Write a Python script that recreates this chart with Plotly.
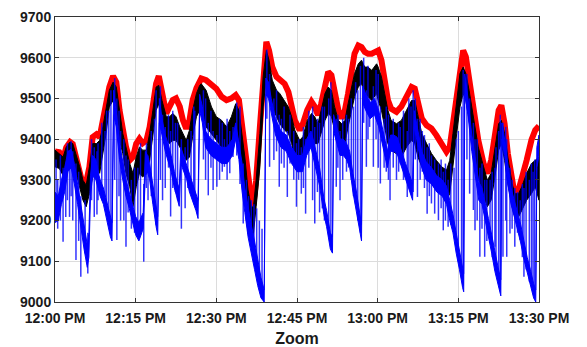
import pandas as pd
import plotly.graph_objects as go

# Sample times, in minutes after 12:00
minutes = [
    0, 0.8, 1.5, 2.1, 2.8, 3.3, 3.9, 4.6, 5.2, 5.8,
    6.4, 7.0, 7.7, 8.3, 8.9, 9.5, 10.1, 10.8, 11.4, 12.0,
    12.6, 13.2, 13.9, 14.5, 15.1, 15.7, 16.3, 17.0, 17.6, 18.2,
    18.8, 19.3, 19.9, 20.7, 21.3, 21.9, 22.5, 23.2, 23.8, 24.4,
    25.0, 25.6, 26.3, 26.9, 27.2, 28.1, 29.1, 30.0, 31.0, 31.9,
    32.8, 33.6, 34.2, 34.6, 35.3, 35.9, 36.5, 36.9, 37.4, 38.1,
    38.7, 39.3, 39.8, 40.4, 41.2, 41.8, 42.7, 43.4, 44.0, 44.6,
    45.5, 46.1, 46.9, 47.7, 48.3, 48.9, 49.5, 50.2, 50.8, 51.4,
    52.0, 52.7, 53.3, 53.9, 54.5, 55.1, 55.7, 56.4, 57.0, 57.6,
    58.2, 58.9, 59.8, 60.1, 60.7, 61.3, 61.9, 62.5, 63.5, 64.4,
    65.4, 66.3, 66.9, 67.5, 68.2, 69.1, 70.0, 70.9, 71.9, 72.8,
    73.4, 74.0, 74.7, 75.3, 75.9, 76.4, 77.0, 77.8, 78.7, 79.7,
    80.4, 81.1, 81.7, 82.5, 83.0, 83.6, 84.2, 85.0, 85.5, 86.2,
    86.8, 87.7, 88.6, 89.3, 90.0,
]

# Upper (red) series
red = [
    9370, 9368, 9352, 9380, 9393, 9388, 9356, 9316, 9287, 9295,
    9332, 9405, 9412, 9405, 9446, 9483, 9528, 9555, 9540, 9471,
    9414, 9381, 9348, 9356, 9389, 9401, 9390, 9397, 9430, 9487,
    9536, 9555, 9512, 9463, 9480, 9496, 9500, 9480, 9446, 9426,
    9446, 9496, 9525, 9545, 9549, 9545, 9536, 9524, 9504, 9496,
    9500, 9508, 9496, 9455, 9373, 9299, 9250, 9238, 9299, 9430,
    9561, 9639, 9618, 9577, 9553, 9545, 9536, 9516, 9479, 9446,
    9422, 9438, 9471, 9492, 9480, 9459, 9487, 9536, 9565, 9557,
    9512, 9471, 9451, 9471, 9512, 9561, 9610, 9630, 9626, 9614,
    9610, 9610, 9618, 9618, 9594, 9545, 9496, 9475, 9467, 9480,
    9508, 9528, 9524, 9487, 9451, 9434, 9426, 9410, 9389, 9369,
    9381, 9438, 9512, 9577, 9618, 9602, 9545, 9471, 9398, 9340,
    9316, 9348, 9405, 9471, 9483, 9438, 9365, 9300, 9262, 9275,
    9300, 9348, 9398, 9422, 9432,
]

# Middle (black) series: top and bottom of its swing
black_hi = [
    9373, 9365, 9356, 9381, 9393, 9389, 9365, 9332, 9299, 9287,
    9332, 9389, 9389, 9397, 9430, 9471, 9520, 9540, 9528, 9471,
    9414, 9381, 9340, 9316, 9356, 9381, 9373, 9373, 9414, 9471,
    9528, 9532, 9495, 9455, 9455, 9463, 9455, 9430, 9414, 9397,
    9422, 9471, 9512, 9532, 9536, 9520, 9479, 9455, 9446, 9430,
    9455, 9487, 9471, 9430, 9356, 9275, 9234, 9234, 9299, 9414,
    9553, 9618, 9594, 9545, 9520, 9512, 9495, 9479, 9455, 9422,
    9397, 9406, 9446, 9463, 9455, 9438, 9471, 9512, 9528, 9520,
    9479, 9446, 9438, 9446, 9487, 9528, 9561, 9585, 9594, 9577,
    9577, 9569, 9585, 9577, 9553, 9512, 9471, 9446, 9438, 9446,
    9471, 9495, 9495, 9455, 9414, 9389, 9365, 9348, 9332, 9324,
    9348, 9414, 9495, 9561, 9577, 9561, 9520, 9455, 9381, 9332,
    9299, 9316, 9373, 9438, 9446, 9414, 9356, 9291, 9266, 9266,
    9283, 9316, 9340, 9348, 9356,
]
black_lo = [
    9332, 9328, 9311, 9332, 9356, 9348, 9316, 9283, 9250, 9234,
    9266, 9307, 9332, 9316, 9365, 9414, 9479, 9495, 9479, 9397,
    9365, 9316, 9283, 9234, 9283, 9316, 9307, 9316, 9348, 9414,
    9471, 9487, 9430, 9397, 9389, 9397, 9397, 9381, 9365, 9348,
    9356, 9406, 9455, 9471, 9479, 9430, 9414, 9397, 9381, 9365,
    9381, 9414, 9397, 9348, 9250, 9168, 9152, 9168, 9234, 9332,
    9479, 9553, 9520, 9479, 9455, 9438, 9422, 9414, 9389, 9356,
    9332, 9348, 9381, 9397, 9389, 9389, 9414, 9446, 9463, 9455,
    9422, 9397, 9381, 9389, 9430, 9471, 9504, 9528, 9536, 9512,
    9504, 9495, 9512, 9495, 9471, 9430, 9389, 9373, 9365, 9356,
    9381, 9397, 9389, 9356, 9332, 9316, 9291, 9275, 9266, 9250,
    9266, 9332, 9414, 9479, 9512, 9495, 9446, 9381, 9307, 9258,
    9234, 9250, 9299, 9373, 9389, 9348, 9291, 9234, 9209, 9209,
    9225, 9250, 9266, 9283, 9250,
]

# Lower (blue) series: dense body of the trace
blue_minutes = [
    0.0, 0.6, 1.2, 1.8, 2.4, 3.0, 3.6, 4.2, 4.8, 5.4,
    6.0, 6.3, 6.6, 7.0, 7.6, 8.2, 8.4, 9.0, 9.7, 10.3,
    10.6, 10.9, 11.4, 12.0, 12.6, 13.2, 13.8, 14.4, 15.0, 15.6,
    16.4, 16.8, 17.2, 17.6, 18.2, 18.8, 19.1, 19.4, 19.9, 20.5,
    21.0, 21.6, 22.2, 22.8, 23.1, 23.4, 24.0, 24.5, 25.0, 25.6,
    26.2, 26.6, 26.9, 27.4, 28.0, 29.0, 30.0, 31.0, 32.0, 33.0,
    33.6, 34.2, 34.8, 35.3, 35.9, 36.5, 37.1, 37.7, 38.3, 38.9,
    39.2, 39.7, 40.2, 41.0, 42.0, 43.0, 44.0, 45.0, 46.0, 46.8,
    47.6, 48.2, 49.2, 50.0, 50.5, 51.2, 51.6, 51.8, 52.4, 53.0,
    53.6, 54.2, 54.8, 55.4, 56.0, 56.6, 57.0, 57.2, 57.8, 58.6,
    59.4, 60.2, 61.0, 61.8, 62.4, 63.0, 63.6, 64.4, 65.2, 66.0,
    66.5, 66.8, 67.4, 68.2, 69.0, 70.0, 71.0, 72.0, 72.8, 73.4,
    74.0, 74.6, 75.2, 75.8, 76.0, 76.2, 76.8, 77.5, 78.2, 78.8,
    79.4, 80.0, 80.6, 81.2, 81.8, 82.4, 82.9, 83.1, 83.6, 84.2,
    84.8, 85.4, 86.0, 86.6, 87.2, 87.8, 88.4, 89.0, 89.4, 89.6,
    90.0,
]
blue_hi = [
    9270, 9260, 9300, 9330, 9370, 9375, 9340, 9290, 9240, 9185,
    9140, 9170, 9310, 9360, 9350, 9310, 9300, 9280, 9240, 9205,
    9195, 9520, 9470, 9390, 9340, 9300, 9270, 9240, 9210, 9195,
    9220, 9370, 9360, 9340, 9290, 9230, 9210, 9500, 9450, 9410,
    9390, 9360, 9320, 9290, 9280, 9380, 9355, 9340, 9315, 9290,
    9265, 9250, 9510, 9480, 9420, 9400, 9390, 9380, 9380, 9400,
    9440, 9390, 9340, 9280, 9230, 9190, 9150, 9100, 9060, 9030,
    9550, 9540, 9500, 9450, 9420, 9410, 9380, 9360, 9360, 9400,
    9420, 9390, 9330, 9255, 9225, 9170, 9160, 9460, 9430, 9400,
    9400, 9390, 9370, 9315, 9275, 9225, 9190, 9530, 9510, 9490,
    9500, 9470, 9420, 9370, 9410, 9410, 9405, 9370, 9340, 9310,
    9290, 9470, 9430, 9370, 9345, 9330, 9310, 9300, 9285, 9250,
    9215, 9170, 9130, 9085, 9070, 9560, 9500, 9410, 9350, 9295,
    9280, 9245, 9205, 9165, 9120, 9085, 9055, 9440, 9400, 9335,
    9280, 9250, 9220, 9190, 9150, 9110, 9080, 9045, 9030, 9380,
    9410,
]
blue_lo = [
    9195, 9200, 9240, 9270, 9320, 9330, 9290, 9240, 9190, 9130,
    9085, 9110, 9260, 9310, 9300, 9270, 9260, 9240, 9200, 9160,
    9150, 9460, 9430, 9350, 9300, 9260, 9230, 9200, 9165, 9150,
    9180, 9310, 9320, 9300, 9240, 9185, 9165, 9440, 9410, 9370,
    9350, 9320, 9280, 9250, 9235, 9340, 9320, 9300, 9270, 9250,
    9225, 9205, 9470, 9440, 9380, 9360, 9350, 9340, 9340, 9360,
    9400, 9350, 9270, 9220, 9160, 9120, 9080, 9040, 9010, 9000,
    9510, 9500, 9460, 9410, 9380, 9370, 9340, 9320, 9320, 9360,
    9380, 9350, 9285, 9215, 9185, 9130, 9120, 9420, 9390, 9360,
    9360, 9350, 9330, 9270, 9230, 9180, 9150, 9490, 9470, 9450,
    9460, 9430, 9380, 9330, 9370, 9370, 9365, 9330, 9300, 9270,
    9250, 9430, 9390, 9330, 9300, 9290, 9270, 9260, 9240, 9200,
    9170, 9120, 9080, 9035, 9025, 9510, 9460, 9370, 9310, 9250,
    9240, 9200, 9160, 9120, 9075, 9040, 9015, 9400, 9360, 9290,
    9240, 9210, 9180, 9145, 9105, 9070, 9040, 9010, 9000, 9330,
    9360,
]

# Isolated excursions of the blue series (time, upper end, lower end)
spike_minutes = [
    0.5, 1.5, 2.0, 2.7, 3.3, 3.9, 4.8, 6.1, 7.3, 7.8,
    9.3, 10.0, 11.5, 12.2, 13.2, 14.2, 15.4, 16.5, 17.3, 18.5,
    20.0, 20.5, 21.5, 22.4, 23.5, 24.2, 25.3, 26.0, 28.5, 29.4,
    30.1, 31.5, 32.5, 33.1, 35.0, 36.0, 37.0, 38.0, 39.9, 40.7,
    41.7, 42.1, 43.2, 44.9, 45.8, 46.6, 48.3, 49.2, 50.1, 50.9,
    52.3, 53.0, 54.6, 55.5, 56.3, 57.9, 58.5, 59.2, 60.5, 61.2,
    62.3, 63.5, 64.2, 65.5, 66.2, 67.4, 68.3, 69.2, 70.0, 70.6,
    71.3, 72.2, 73.1, 74.2, 75.0, 75.6, 77.1, 77.8, 78.1, 79.0,
    79.9, 80.9, 81.8, 82.5, 83.3, 84.0, 84.6, 85.5, 86.5, 87.2,
    88.2, 88.9,
    0.2, 1.0, 2.3, 3.0, 4.4, 5.6, 6.8, 8.0, 8.7, 9.6,
    10.4, 11.1, 11.9, 12.8, 13.6, 14.8, 15.9, 17.0, 17.9, 18.8,
    19.6, 21.1, 21.9, 22.8, 24.7, 25.8, 27.6, 28.0, 29.0, 30.6,
    31.1, 32.0, 33.8, 34.4, 35.6, 36.5, 37.5, 38.5, 39.4, 41.2,
    42.6, 43.7, 44.4, 45.3, 46.2, 47.2, 47.9, 48.8, 49.7, 51.3,
    52.6, 53.5, 54.2, 55.1, 55.9, 56.8, 57.4, 58.2, 59.7, 60.1,
    61.6, 62.0, 62.9, 63.9, 64.8, 65.8, 66.6, 67.0, 67.9, 68.7,
    69.6, 71.8, 72.6, 73.6, 74.6, 75.9, 76.6, 78.5, 79.4, 80.3,
    81.3, 82.0, 82.8, 83.8, 85.0, 86.0, 86.9, 87.6, 88.6, 89.2,
]
spike_top = [
    9300, 9330, 9340, 9370, 9370, 9340, 9260, 9170, 9380, 9370,
    9420, 9470, 9500, 9420, 9360, 9300, 9330, 9290, 9360, 9450,
    9460, 9430, 9420, 9440, 9400, 9380, 9420, 9470, 9440, 9420,
    9410, 9400, 9420, 9430, 9340, 9260, 9240, 9200, 9560, 9500,
    9460, 9450, 9420, 9390, 9380, 9400, 9430, 9440, 9480, 9500,
    9450, 9420, 9450, 9480, 9520, 9520, 9500, 9530, 9480, 9450,
    9400, 9400, 9430, 9420, 9480, 9450, 9420, 9380, 9360, 9350,
    9340, 9320, 9300, 9330, 9420, 9480, 9500, 9440, 9400, 9330,
    9300, 9300, 9330, 9420, 9440, 9400, 9330, 9280, 9250, 9280,
    9300, 9320,
    9350, 9360, 9390, 9395, 9320, 9250, 9400, 9390, 9440, 9470,
    9520, 9550, 9470, 9400, 9350, 9330, 9390, 9390, 9420, 9520,
    9530, 9460, 9470, 9440, 9400, 9480, 9520, 9500, 9470, 9450,
    9440, 9450, 9490, 9480, 9300, 9250, 9230, 9180, 9620, 9520,
    9480, 9460, 9420, 9400, 9430, 9470, 9480, 9450, 9480, 9540,
    9460, 9450, 9460, 9500, 9540, 9580, 9600, 9580, 9570, 9560,
    9480, 9460, 9450, 9440, 9470, 9500, 9520, 9500, 9450, 9410,
    9390, 9350, 9340, 9340, 9400, 9570, 9560, 9400, 9340, 9300,
    9320, 9380, 9460, 9430, 9300, 9270, 9290, 9320, 9340, 9350,
]
spike_bottom = [
    9180, 9148, 9209, 9209, 9200, 9103, 9062, 9070, 9209, 9215,
    9260, 9200, 9152, 9200, 9136, 9180, 9160, 9099, 9250, 9240,
    9250, 9280, 9210, 9270, 9180, 9230, 9280, 9240, 9262, 9275,
    9283, 9332, 9316, 9356, 9193, 9170, 9110, 9060, 9332, 9349,
    9283, 9340, 9258, 9234, 9266, 9217, 9193, 9220, 9200, 9160,
    9283, 9250, 9330, 9260, 9200, 9332, 9430, 9332, 9291, 9330,
    9250, 9300, 9340, 9258, 9280, 9258, 9320, 9217, 9242, 9217,
    9201, 9176, 9185, 9180, 9100, 9060, 9266, 9226, 9176, 9111,
    9111, 9176, 9136, 9060, 9111, 9111, 9168, 9136, 9152, 9062,
    9050, 9020,
    9220, 9200, 9250, 9260, 9150, 9120, 9250, 9250, 9250, 9220,
    9170, 9300, 9260, 9200, 9220, 9170, 9170, 9280, 9260, 9190,
    9300, 9330, 9280, 9250, 9280, 9250, 9350, 9300, 9330, 9300,
    9320, 9300, 9360, 9290, 9200, 9140, 9080, 9020, 9450, 9370,
    9330, 9340, 9300, 9300, 9280, 9330, 9250, 9270, 9230, 9140,
    9330, 9300, 9320, 9300, 9240, 9170, 9440, 9400, 9400, 9330,
    9320, 9300, 9330, 9320, 9300, 9280, 9270, 9350, 9300, 9280,
    9260, 9230, 9200, 9190, 9140, 9040, 9350, 9200, 9180, 9150,
    9110, 9080, 9030, 9200, 9180, 9170, 9110, 9080, 9040, 9010,
]

tick_minutes = [0, 15, 30, 45, 60, 75, 90]
tick_labels = ["12:00 PM", "12:15 PM", "12:30 PM", "12:45 PM",
               "13:00 PM", "13:15 PM", "13:30 PM"]

start = pd.Timestamp("2021-03-01 12:00:00")


def clock(mins):
    return [(start + pd.Timedelta(minutes=m)).strftime("%Y-%m-%d %H:%M:%S.%f")
            for m in mins]


def band(mins, hi, lo):
    t = clock(mins)
    return t + t[::-1], list(hi) + list(lo)[::-1]


fig = go.Figure()

fig.add_trace(go.Scatter(
    x=clock(minutes), y=red, mode="lines",
    line=dict(color="#ff0000", width=6), hoverinfo="skip",
))

bx, by = band(minutes, black_hi, black_lo)
fig.add_trace(go.Scatter(
    x=bx, y=by, mode="lines", fill="toself", fillcolor="#000000",
    line=dict(color="#000000", width=1), hoverinfo="skip",
))

ux, uy = band(blue_minutes, blue_hi, blue_lo)
fig.add_trace(go.Scatter(
    x=ux, y=uy, mode="lines", fill="toself", fillcolor="#0000ff",
    line=dict(color="#0000ff", width=1), hoverinfo="skip",
))

sx, sy = [], []
for t, (top, bottom) in zip(clock(spike_minutes), zip(spike_top, spike_bottom)):
    sx += [t, t, None]
    sy += [top, bottom, None]
fig.add_trace(go.Scatter(
    x=sx, y=sy, mode="lines",
    line=dict(color="rgba(0,0,255,0.8)", width=1.5), hoverinfo="skip",
))

label_font = dict(family="Arial, Liberation Sans, sans-serif", size=14,
                  color="#1a1a1a", weight="bold")
common = dict(
    showgrid=True, gridcolor="#dcdcdc", gridwidth=1,
    showline=True, linecolor="#333333", linewidth=1, mirror="ticks",
    ticks="inside", ticklen=4, tickcolor="#333333",
    tickfont=label_font, zeroline=False, automargin=False,
)

fig.update_layout(
    width=587, height=347,
    margin=dict(l=55, r=48, t=17, b=45),
    plot_bgcolor="white", paper_bgcolor="white",
    showlegend=False,
    xaxis=dict(
        type="date",
        range=clock([0, 90]),
        tickvals=clock(tick_minutes), ticktext=tick_labels,
        ticklabelstandoff=3,
        title=dict(text="Zoom", standoff=13,
                   font=dict(family="Arial, Liberation Sans, sans-serif",
                             size=16, color="#1a1a1a", weight="bold")),
        **common,
    ),
    yaxis=dict(range=[9000, 9700], dtick=100, **common),
)

fig.write_html("out.html")
